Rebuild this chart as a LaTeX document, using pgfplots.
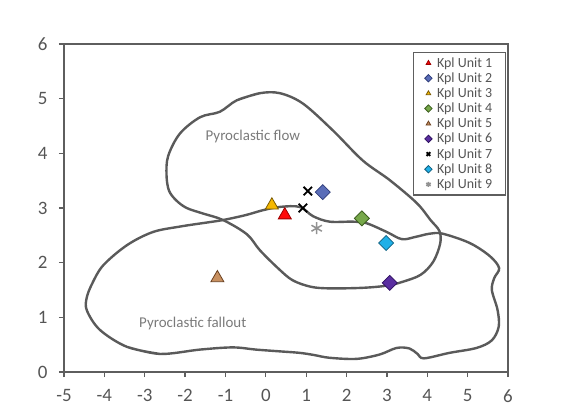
\documentclass[border=0pt]{standalone}
\usepackage{pgfplots}
\pgfplotsset{compat=1.18}
\usepackage{fontspec}
\setmainfont{Carlito}
\definecolor{axgray}{HTML}{5E5E5E}
\definecolor{tickgray}{HTML}{555555}
\definecolor{curvegray}{HTML}{5A5A5A}
\definecolor{labgray}{HTML}{7A7A7A}
\definecolor{uA}{HTML}{FF0A0A}\definecolor{uAd}{HTML}{A00000}
\definecolor{uB}{HTML}{5A6DB8}\definecolor{uBd}{HTML}{2F3D7A}
\definecolor{uC}{HTML}{F5B800}\definecolor{uCd}{HTML}{7A5A00}
\definecolor{uD}{HTML}{77A84A}\definecolor{uDd}{HTML}{3E6020}
\definecolor{uE}{HTML}{C89060}\definecolor{uEd}{HTML}{6A4020}
\definecolor{uF}{HTML}{5A2EA0}\definecolor{uFd}{HTML}{2E1060}
\definecolor{uH}{HTML}{20B0E8}\definecolor{uHd}{HTML}{106080}
\definecolor{uI}{HTML}{929292}
\begin{document}
\begin{tikzpicture}
\useasboundingbox (-64bp,-42bp) rectangle (508bp,372bp);
\begin{axis}[
  scale only axis, width=444bp, height=328bp,
  xmin=-5, xmax=6, ymin=0, ymax=6,
  xtick={-5,-4,-3,-2,-1,0,1,2,3,4,5,6}, ytick={0,1,2,3,4,5,6},
  tick align=outside, tick pos=left,
  major tick length=5bp,
  axis line style={draw=axgray, line width=1.3bp},
  every tick/.style={draw=axgray, line width=1.2bp},
  tick label style={font=\fontsize{19}{19}\selectfont, text=tickgray},
  xticklabel style={yshift=-9bp},
  yticklabel style={xshift=-8bp},
  /pgf/number format/assume math mode=true,
  legend style={at={(0.995,0.976)}, anchor=north east, draw=axgray, line width=1.2bp,
    font=\fontsize{14}{14}\selectfont, text=tickgray, row sep=0bp,
    inner xsep=11bp, inner ysep=3bp,
    /tikz/every odd column/.append style={column sep=3bp},
    /tikz/every even column/.append style={column sep=0bp}},
  legend cell align=left,
  legend image code/.code={\draw[#1, mark size=2.6bp] plot coordinates {(0.12cm,0cm)};},
]
% Pyroclastic fallout boundary
\addplot[forget plot, smooth, tension=0.55, draw=curvegray, line width=2.4bp, mark=none] coordinates {
(-2.62,0.33) (-3.44,0.46) (-4.11,0.77) (-4.43,1.12) (-4.44,1.35) (-4.30,1.62) (-4.03,1.95)
(-3.44,2.32) (-2.80,2.56) (-2.13,2.66) (-1.50,2.73) (-1.06,2.78) (-0.50,2.87) (-0.07,2.96)
(0.35,3.02) (0.84,3.02) (1.17,2.85) (1.58,2.75) (2.15,2.75) (2.5,2.72) (3.0,2.56) (3.37,2.43)
(3.7,2.47) (4.06,2.53) (4.38,2.53) (5.05,2.36) (5.55,2.12) (5.78,1.90) (5.66,1.72) (5.60,1.50)
(5.74,1.14) (5.77,0.83) (5.60,0.58) (5.22,0.44) (4.55,0.35) (3.92,0.25) (3.76,0.33) (3.56,0.43)
(3.24,0.44) (2.82,0.32) (2.25,0.24) (1.58,0.26) (1.20,0.31) (0.84,0.35) (0.30,0.38) (-0.25,0.41)
(-0.82,0.45) (-1.63,0.41) (-2.62,0.33) (-3.44,0.46)
};
% Pyroclastic flow boundary
\addplot[forget plot, smooth, tension=0.55, draw=curvegray, line width=2.4bp, mark=none] coordinates {
(-0.72,4.97) (-0.15,5.10) (0.35,5.10) (0.92,4.91) (1.66,4.42) (2.40,3.87) (3.07,3.51) (3.74,3.09)
(4.08,2.78) (4.30,2.58) (4.32,2.35) (4.15,2.02) (3.84,1.78) (3.39,1.65) (3.0,1.58) (2.40,1.54)
(1.58,1.53) (1.11,1.56) (0.66,1.68) (0.30,1.90) (-0.15,2.23) (-0.47,2.52) (-1.06,2.78)
(-1.56,2.90) (-1.96,3.0) (-2.22,3.14) (-2.40,3.32) (-2.46,3.60) (-2.42,3.95) (-2.13,4.36)
(-1.63,4.66) (-1.14,4.76) (-0.72,4.97) (-0.15,5.10)
};
\node[text=labgray, font=\fontsize{15}{15}\selectfont] at (axis cs:-0.32,4.30) {Pyroclastic flow};
\node[text=labgray, font=\fontsize{15}{15}\selectfont] at (axis cs:-1.81,0.88) {Pyroclastic fallout};
% Units
\addplot[only marks, mark=triangle*, mark size=7.5bp, mark options={fill=uA, draw=uAd, line width=0.8bp}] coordinates {(0.47,2.87)};
\addlegendentry{Kpl Unit 1}
\addplot[only marks, mark=square*, mark size=5.3bp, mark options={rotate=45, fill=uB, draw=uBd, line width=0.8bp}] coordinates {(1.41,3.29)};
\addlegendentry{Kpl Unit 2}
\addplot[only marks, mark=triangle*, mark size=7.5bp, mark options={fill=uC, draw=uCd, line width=0.8bp}] coordinates {(0.15,3.05)};
\addlegendentry{Kpl Unit 3}
\addplot[only marks, mark=square*, mark size=5.3bp, mark options={rotate=45, fill=uD, draw=uDd, line width=0.8bp}] coordinates {(2.38,2.81)};
\addlegendentry{Kpl Unit 4}
\addplot[only marks, mark=triangle*, mark size=7.5bp, mark options={fill=uE, draw=uEd, line width=0.8bp}] coordinates {(-1.2,1.72)};
\addlegendentry{Kpl Unit 5}
\addplot[only marks, mark=square*, mark size=5.3bp, mark options={rotate=45, fill=uF, draw=uFd, line width=0.8bp}] coordinates {(3.07,1.63)};
\addlegendentry{Kpl Unit 6}
\addplot[only marks, mark=x, mark size=6bp, mark options={draw=black, line width=1.8bp}] coordinates {(1.04,3.31) (0.92,3.0)};
\addlegendentry{Kpl Unit 7}
\addplot[only marks, mark=square*, mark size=5.3bp, mark options={rotate=45, fill=uH, draw=uHd, line width=0.8bp}] coordinates {(2.98,2.36)};
\addlegendentry{Kpl Unit 8}
\addplot[only marks, mark=asterisk, mark size=6bp, mark options={draw=uI, line width=1.5bp}] coordinates {(1.26,2.63)};
\addlegendentry{Kpl Unit 9}
\end{axis}
\end{tikzpicture}
\end{document}
